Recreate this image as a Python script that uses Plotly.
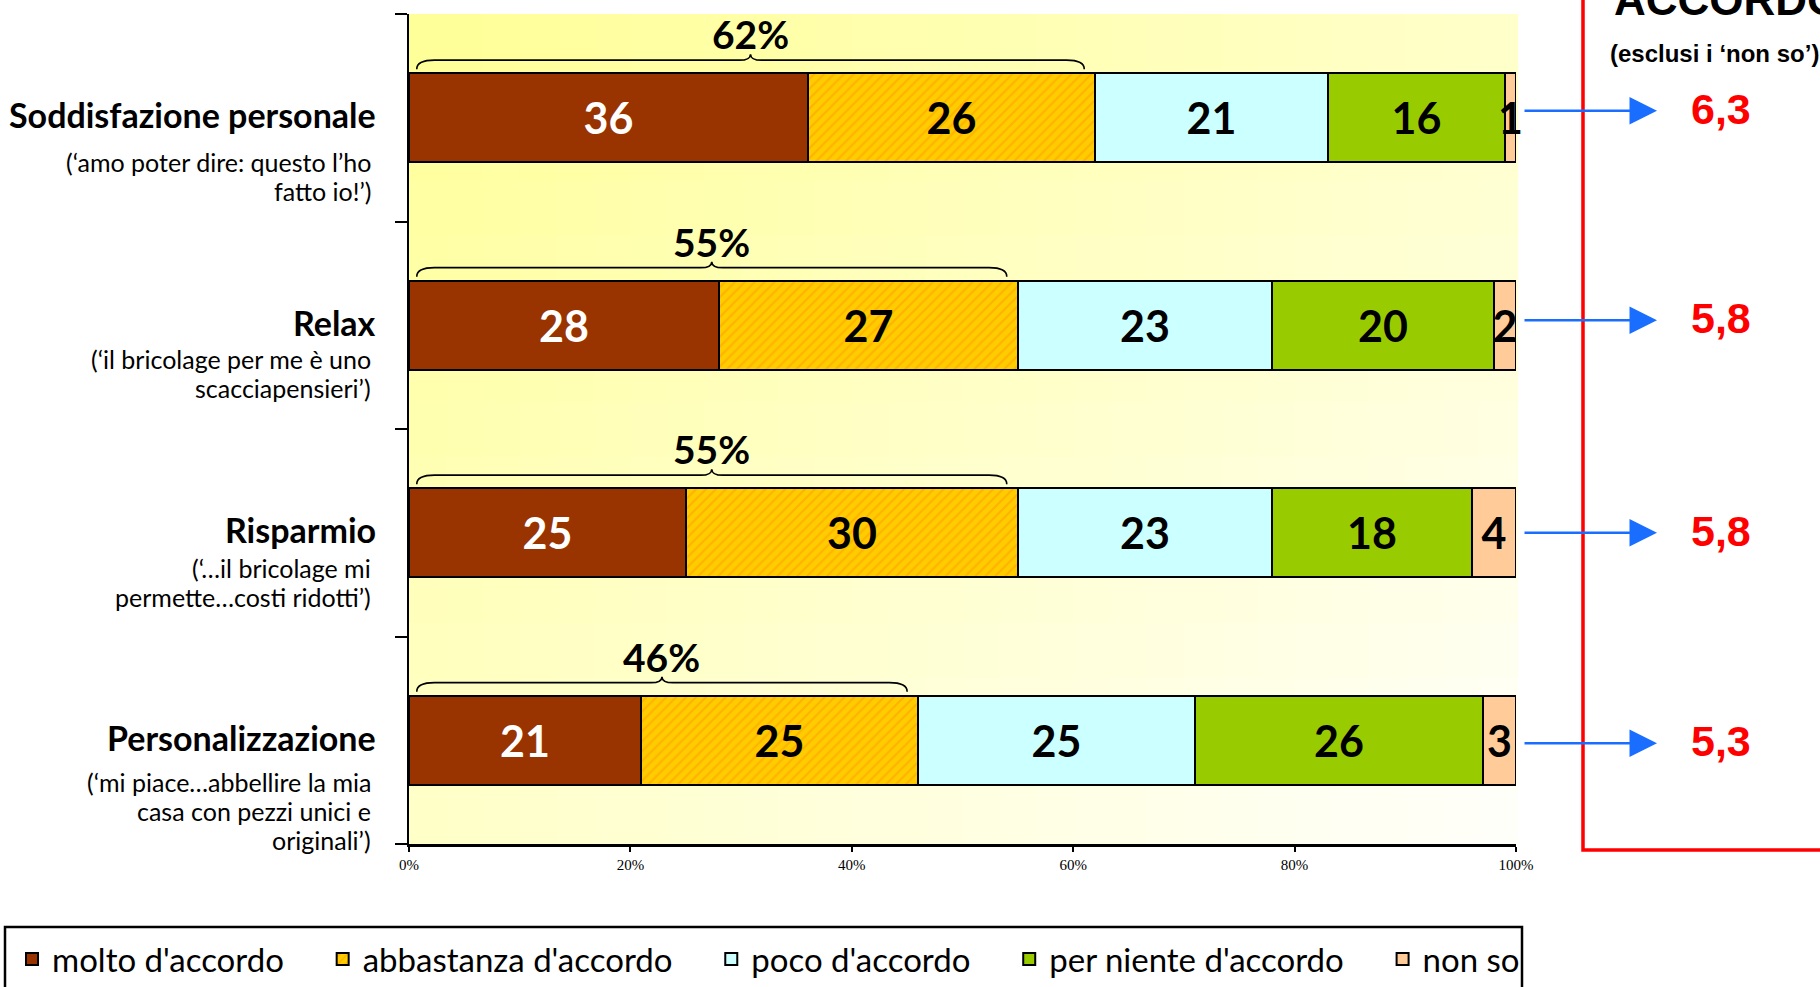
import plotly.graph_objects as go

# ---------------- data ----------------
categories = ["Soddisfazione personale", "Relax", "Risparmio", "Personalizzazione"]
subtitles = [
    "(‘amo poter dire: questo l’ho<br>fatto io!’)",
    "(‘il bricolage per me è uno<br>scacciapensieri’)",
    "(‘…il bricolage mi<br>permette…costi ridotti’)",
    "(‘mi piace…abbellire la mia<br>casa con pezzi unici e<br>originali’)",
]
series_names = ["molto d'accordo", "abbastanza d'accordo", "poco d'accordo",
                "per niente d'accordo", "non so"]
molto = [36, 28, 25, 21]
abbastanza = [26, 27, 30, 25]
poco = [21, 23, 23, 25]
per_niente = [16, 20, 18, 26]
non_so = [1, 2, 4, 3]
medie = [6.3, 5.8, 5.8, 5.3]
x_tick_vals = [0, 20, 40, 60, 80, 100]
x_tick_labels = ["0%", "20%", "40%", "60%", "80%", "100%"]
panel_title = "ACCORDO"
panel_sub = "(esclusi i ‘non so’)"

# ---------------- style ----------------
W, H = 1820, 987
ML, MR, MT, MB = 409, 304, 14, 143
PW, PH = W - ML - MR, H - MT - MB
series_values = [molto, abbastanza, poco, per_niente, non_so]
series_colors = ["#993300", "#FFCC00", "#CCFFFF", "#99CC00", "#FFCC99"]
text_colors = ["white", "black", "black", "black", "black"]
BAR_W = 0.43
MAIN_FONT = "Lato"
sub_first = [44, 34, 35, 42]   # px from bar centre to first subtitle line centre
SUB_LINE = 29                  # px between subtitle lines
panel_dy = [7, 5, 0, -3]       # px vertical nudge of arrows / means (up = +)
LEGEND_PAD = "\u00a0\u00a0\u00a0\u00a0"

pos = list(range(len(categories)))
UNIT_PX = PH / len(categories)  # px per y unit


def px_x(px):
    return (px - ML) / PW


def px_y(py):
    return (H - MB - py) / PH


fig = go.Figure()
for k, (name, vals, col, tcol) in enumerate(zip(series_names, series_values,
                                                 series_colors, text_colors)):
    marker = dict(color=col, line=dict(color="black", width=2))
    if name == "abbastanza d'accordo":
        marker["pattern"] = dict(shape="/", fgcolor="#FF9900", bgcolor=col,
                                 size=7, solidity=0.3)
    legend_name = name + (LEGEND_PAD if k < len(series_names) - 1 else "")
    fig.add_trace(go.Bar(
        y=pos, x=vals, orientation="h", name=legend_name, width=BAR_W,
        marker=marker, text=[str(v) for v in vals], texttemplate="%{text}",
        textposition="inside", insidetextanchor="middle", textangle=0,
        constraintext="none", cliponaxis=False,
        textfont=dict(family=MAIN_FONT, size=43, color=tcol, weight="bold"),
        hoverinfo="skip",
    ))

shapes = []
# gradient background of plot area
NX, NY = 30, 15
for ix in range(NX):
    for iy in range(NY):
        t = ((ix + 0.5) / NX + (iy + 0.5) / NY) / 2
        b = int(round(150 + (252 - 150) * t))
        shapes.append(dict(type="rect", xref="paper", yref="paper",
                           x0=ix / NX, x1=(ix + 1) / NX + 0.002,
                           y0=1 - (iy + 1) / NY - 0.002, y1=1 - iy / NY,
                           fillcolor=f"rgb(255,255,{b})", line=dict(width=0),
                           layer="below"))

annotations = []
for i, cat in enumerate(categories):
    # category labels
    annotations.append(dict(xref="paper", yref="y", x=px_x(378), y=i, yshift=3,
                            xanchor="right", yanchor="middle", showarrow=False,
                            text=f"<b>{cat}</b>",
                            font=dict(family=MAIN_FONT, size=34, color="black")))
    for k, line in enumerate(subtitles[i].split("<br>")):
        annotations.append(dict(xref="paper", yref="y", x=px_x(373), y=i,
                                xanchor="right", yanchor="middle", align="right",
                                showarrow=False, text=line,
                                yshift=-(sub_first[i] + k * SUB_LINE),
                                font=dict(family=MAIN_FONT, size=25, color="black")))
    # brace over the top-2 share
    top2 = molto[i] + abbastanza[i]
    x0, x1 = 0.7, top2 - 1.0
    xc = (x0 + x1) / 2
    yt = i - BAR_W / 2
    ye = yt - 4 / UNIT_PX
    yl = yt - 13 / UNIT_PX
    yc = yt - 19 / UNIT_PX
    c1, c2 = 1.6, 1.0
    path = (f"M{x0},{ye} Q{x0},{yl} {x0 + c1},{yl} L{xc - c2},{yl} "
            f"Q{xc},{yl} {xc},{yc} Q{xc},{yl} {xc + c2},{yl} "
            f"L{x1 - c1},{yl} Q{x1},{yl} {x1},{ye}")
    shapes.append(dict(type="path", xref="x", yref="y", path=path,
                       line=dict(color="black", width=1.6)))
    annotations.append(dict(xref="x", yref="y", x=xc, y=yt, yshift=39,
                            xanchor="center", yanchor="middle", showarrow=False,
                            text=f"<b>{top2}%</b>",
                            font=dict(family=MAIN_FONT, size=39, color="black")))
    # arrow and mean value
    yp = i - panel_dy[i] / UNIT_PX
    annotations.append(dict(xref="paper", yref="y", x=px_x(1657), y=yp,
                            ax=-(1657 - 1523), ay=0, axref="pixel", ayref="pixel",
                            showarrow=True, arrowhead=2, arrowsize=2.2,
                            arrowwidth=2.5, arrowcolor="#1A6EFF", text=""))
    annotations.append(dict(xref="paper", yref="y", x=px_x(1721), y=yp, yshift=2,
                            xanchor="center", yanchor="middle", showarrow=False,
                            text=f"<b>{medie[i]:.1f}</b>".replace(".", ","),
                            font=dict(family="Liberation Sans", size=43, color="#FF0000")))

annotations.append(dict(xref="paper", yref="paper", x=px_x(1612), y=px_y(-1),
                        xanchor="left", yanchor="middle", showarrow=False,
                        text=f"<b>{panel_title}</b>",
                        font=dict(family="Liberation Sans", size=44, color="black")))
annotations.append(dict(xref="paper", yref="paper", x=px_x(1608), y=px_y(53),
                        xanchor="left", yanchor="middle", showarrow=False,
                        text=f"<b>{panel_sub}</b>",
                        font=dict(family="Liberation Sans", size=24, color="black")))

# red box on the right
shapes.append(dict(type="rect", xref="paper", yref="paper",
                   x0=px_x(1583), x1=px_x(1900), y0=px_y(850), y1=px_y(-60),
                   line=dict(color="#FF0000", width=3.5)))
# legend frame
shapes.append(dict(type="rect", xref="paper", yref="paper",
                   x0=px_x(5), x1=px_x(1522), y0=px_y(927), y1=px_y(1050),
                   line=dict(color="black", width=2.5)))

fig.update_layout(
    width=W, height=H,
    margin=dict(l=ML, r=MR, t=MT, b=MB, pad=0, autoexpand=False),
    paper_bgcolor="white", plot_bgcolor="rgba(0,0,0,0)",
    barmode="stack", bargap=0,
    showlegend=True,
    legend=dict(orientation="h", x=px_x(12), y=px_y(931), xanchor="left", yanchor="top",
                font=dict(family=MAIN_FONT, size=33, color="black"),
                bgcolor="rgba(0,0,0,0)", borderwidth=0, traceorder="normal",
                itemclick=False, itemdoubleclick=False),
    xaxis=dict(range=[0, 100], tickvals=x_tick_vals, ticktext=x_tick_labels,
               showgrid=False, zeroline=False, showline=True, linecolor="black",
               linewidth=3, ticks="outside", ticklen=5, tickwidth=1.5, tickcolor="black",
               tickfont=dict(family="Liberation Serif", size=15, color="black"),
               fixedrange=True),
    yaxis=dict(range=[len(categories) - 0.5, -0.5],
               tickvals=[p - 0.5 for p in range(len(categories) + 1)],
               ticktext=[""] * (len(categories) + 1),
               showgrid=False, zeroline=False, showline=True, linecolor="black",
               linewidth=2, ticks="outside", ticklen=12, tickwidth=2, tickcolor="black",
               fixedrange=True),
    shapes=shapes,
    annotations=annotations,
)

fig.write_html("out.html", config={"displayModeBar": False},
               post_script="document.body.style.margin='0px';document.body.style.overflow='hidden';")
